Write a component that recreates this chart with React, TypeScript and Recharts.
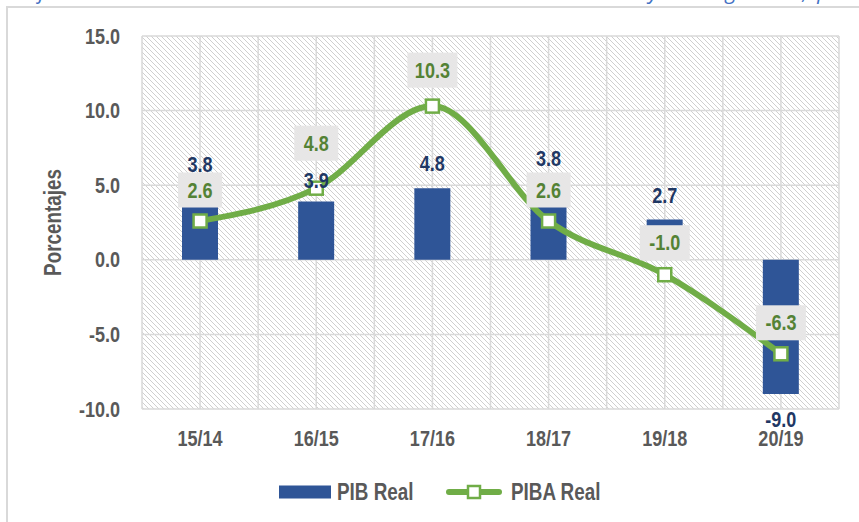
import React from "react"
import { ComposedChart, Bar, Line, XAxis, YAxis, CartesianGrid, Legend, LabelList } from "recharts"

// values
const categories = ["15/14", "16/15", "17/16", "18/17", "19/18", "20/19"]
const pibReal = [3.8, 3.9, 4.8, 3.8, 2.7, -9.0]
const pibaReal = [2.6, 4.8, 10.3, 2.6, -1.0, -6.3]
const yTicks = [-10, -5, 0, 5, 10, 15]

// how far each data label sits from its mark (Excel labels were nudged by hand)
const barLabelGap = [39, 21, 25, 45, 24, 25]
const lineLabelGap = [31, 45, 36, 31, 32, 31]

const data = categories.map((cat, i) => ({ cat, pib: pibReal[i], piba: pibaReal[i] }))

// Arial Narrow look-alike: Liberation Sans squeezed horizontally
const FONT = '"Liberation Sans", Arial, sans-serif'
const SQUEEZE = 0.82
const GRAY = "#595959"
const BLUE = "#2f5597"
const NAVY = "#1f3864"
const GREEN = "#70ad47"
const DARK_GREEN = "#548235"

const NarrowText = ({ x, y, anchor = "middle", size = 22, fill = GRAY, rotate = 0, children }) => (
  <text
    transform={`translate(${x},${y}) rotate(${rotate}) scale(${SQUEEZE},1)`}
    textAnchor={anchor}
    dominantBaseline="central"
    fontSize={size}
    fontWeight="bold"
    fontFamily={FONT}
    fill={fill}
  >
    {children}
  </text>
)

const XTick = (props) => {
  const { x, y, payload } = props
  return (
    <NarrowText x={x} y={y}>
      {payload.value}
    </NarrowText>
  )
}

const YTick = (props) => {
  const { x, y, payload } = props
  return (
    <NarrowText x={x} y={y} anchor="end">
      {Number(payload.value).toFixed(1)}
    </NarrowText>
  )
}

const BarLabel = (props) => {
  const { x, y, width, height, value, index } = props
  const top = Math.min(y, y + height)
  const bottom = Math.max(y, y + height)
  const gap = barLabelGap[index] ?? 24
  const cy = value < 0 ? bottom + gap : top - gap
  return (
    <NarrowText x={x + width / 2} y={cy} fill={NAVY}>
      {Number(value).toFixed(1)}
    </NarrowText>
  )
}

const LineLabel = (props) => {
  const { x, y, value, index } = props
  const txt = Number(value).toFixed(1)
  const w = 26 + txt.length * 6
  const h = 35
  const cy = y - (lineLabelGap[index] ?? 32)
  return (
    <g>
      <rect x={x - w / 2} y={cy - h / 2} width={w} height={h} fill="#e7e6e6" />
      <NarrowText x={x} y={cy} fill={DARK_GREEN}>
        {txt}
      </NarrowText>
    </g>
  )
}

const SquareDot = (props) => {
  const { cx, cy } = props
  if (cx == null || cy == null) return null
  return <rect x={cx - 6.5} y={cy - 6.5} width={13} height={13} fill="#fff" stroke={GREEN} strokeWidth={2.5} />
}

const AxisTitle = (props) => {
  const { viewBox } = props
  return (
    <NarrowText x={viewBox.x + 53} y={viewBox.y + viewBox.height / 2} rotate={-90} size={23}>
      Porcentajes
    </NarrowText>
  )
}

const ChartLegend = ({ payload = [] }) => {
  const bar = payload.find((p) => p.dataKey === "pib")
  const line = payload.find((p) => p.dataKey === "piba")
  return (
    <svg width={839} height={30} style={{ display: "block" }}>
      <rect x={279} y={8.5} width={52} height={13} fill={BLUE} />
      <NarrowText x={337} y={15} anchor="start" size={23}>
        {bar ? bar.value : "PIB Real"}
      </NarrowText>
      <line x1={449} y1={15} x2={499} y2={15} stroke={GREEN} strokeWidth={6} strokeLinecap="round" />
      <rect x={468} y={9} width={12} height={12} fill="#fff" stroke={GREEN} strokeWidth={2.5} />
      <NarrowText x={511} y={15} anchor="start" size={23}>
        {line ? line.value : "PIBA Real"}
      </NarrowText>
    </svg>
  )
}

export default function App() {
  return (
    <div style={{ position: "absolute", left: 0, top: 0, width: 859, height: 522, overflow: "hidden", background: "#fff" }}>
      {/* hatch used as plot background */}
      <svg width={0} height={0} style={{ position: "absolute" }}>
        <defs>
          <pattern id="hatch" width={5} height={5} patternUnits="userSpaceOnUse">
            <rect width={5} height={5} fill="#fff" />
            <path d="M0,0 L5,5 M-1,4 L1,6 M4,-1 L6,1" stroke="#cfcfcf" strokeWidth={1} />
          </pattern>
        </defs>
      </svg>
      {/* frame of the figure, runs off the page on the right and bottom */}
      <div
        style={{
          position: "absolute",
          left: 6,
          top: 6,
          width: 900,
          height: 600,
          border: "2px solid #d9d9d9",
          boxSizing: "border-box",
        }}
      />
      {/* caption above, cut off by the crop */}
      <svg width={859} height={10} style={{ position: "absolute", left: 0, top: 0 }}>
        <text
          x={-2}
          y={-1}
          fill="#4472c4"
          fontSize={21}
          letterSpacing={2}
          fontStyle="italic"
          fontFamily='"Open Sans", sans-serif'
        >
          Gráfico 1. Honduras: Tasa de variación anual del PIB real y PIB agrícola, porcentajes
        </text>
      </svg>
      <div style={{ position: "absolute", left: 0, top: 0 }}>
        <ComposedChart width={859} height={522} data={data} margin={{ top: 36, right: 20, left: 0, bottom: 43 }}>
          <CartesianGrid
            stroke="#d9d9d9"
            strokeWidth={1.5}
            fill="url(#hatch)"
            fillOpacity={1}
            verticalCoordinatesGenerator={({ offset }) =>
              Array.from({ length: 13 }, (_, i) => offset.left + (i * offset.width) / 12)
            }
          />
          <XAxis
            dataKey="cat"
            height={40}
            axisLine={false}
            tickLine={false}
            tickSize={0}
            tickMargin={29}
            interval={0}
            tick={<XTick />}
          />
          <YAxis
            width={142}
            domain={[-10, 15]}
            ticks={yTicks}
            axisLine={false}
            tickLine={false}
            tickSize={0}
            tickMargin={22}
            tick={<YTick />}
            label={<AxisTitle />}
          />
          <Legend verticalAlign="bottom" content={<ChartLegend />} wrapperStyle={{ bottom: 15 }} />
          <Bar dataKey="pib" name="PIB Real" fill={BLUE} barSize={36} isAnimationActive={false}>
            <LabelList dataKey="pib" content={<BarLabel />} />
          </Bar>
          <Line
            dataKey="piba"
            name="PIBA Real"
            type="monotone"
            stroke={GREEN}
            strokeWidth={6}
            dot={<SquareDot />}
            activeDot={false}
            isAnimationActive={false}
          >
            <LabelList dataKey="piba" content={<LineLabel />} />
          </Line>
        </ComposedChart>
      </div>
    </div>
  )
}
